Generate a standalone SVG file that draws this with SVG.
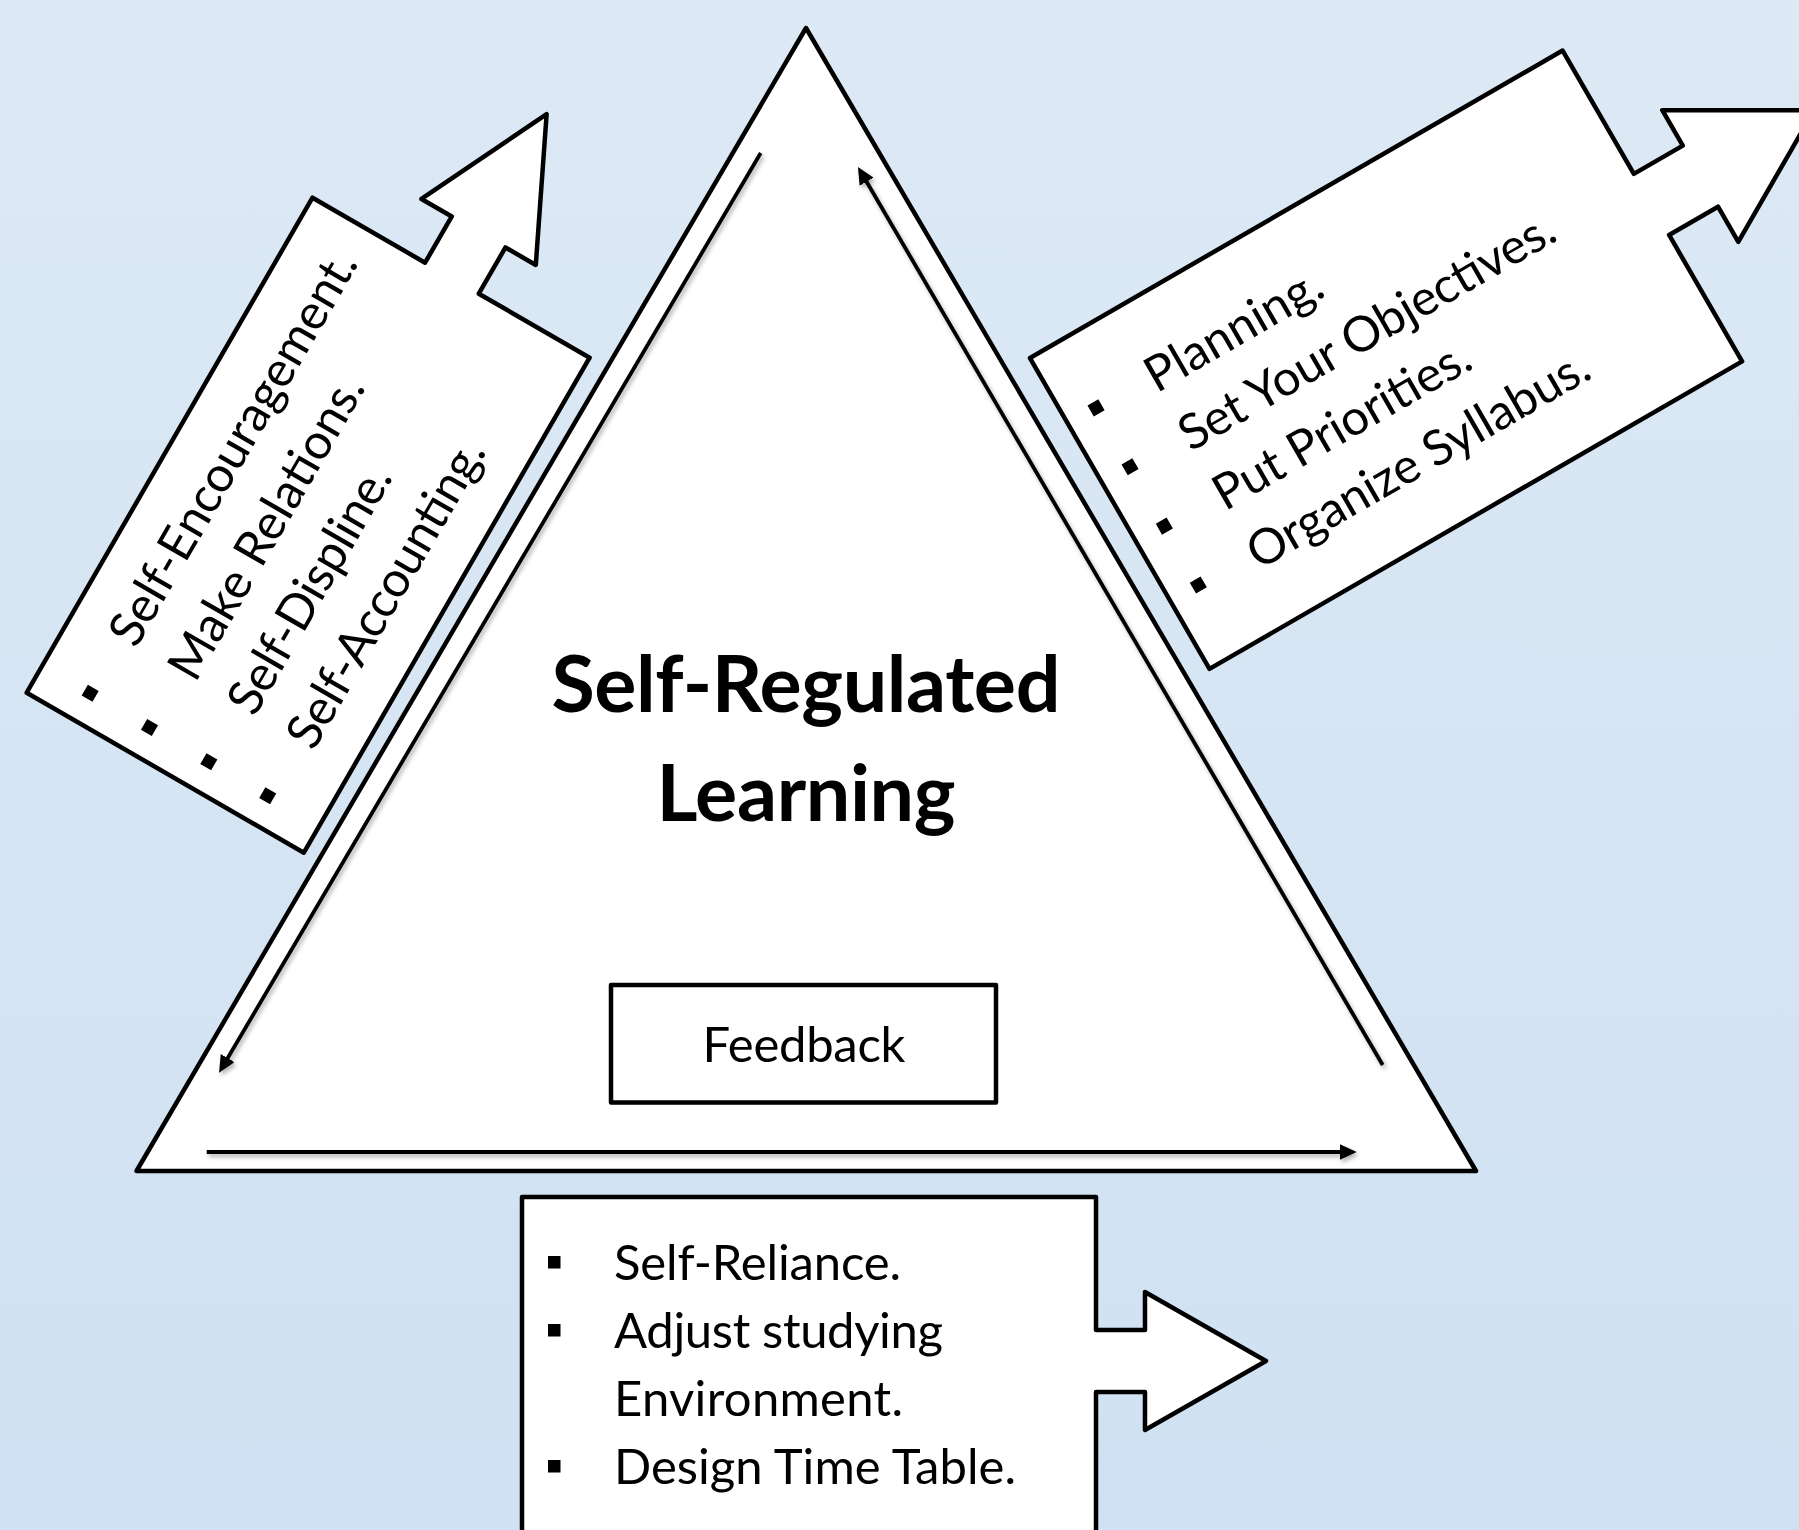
<svg xmlns="http://www.w3.org/2000/svg" width="1799" height="1530" viewBox="0 0 1799 1530">
  <defs>
    <linearGradient id="bg" x1="0" y1="0" x2="0" y2="1">
      <stop offset="0" stop-color="#dde9f5"/>
      <stop offset="1" stop-color="#cfe1f2"/>
    </linearGradient>
    <filter id="soft" filterUnits="userSpaceOnUse" x="0" y="0" width="1799" height="1530">
      <feDropShadow dx="2" dy="3" stdDeviation="2" flood-color="#000" flood-opacity="0.3"/>
    </filter>
    <marker id="head" viewBox="0 0 17 16" markerUnits="userSpaceOnUse" markerWidth="17" markerHeight="16" refX="8" refY="8" orient="auto">
      <path d="M0,0 L17,8 L0,16 Z" fill="#000"/>
    </marker>
    <style>
      .shape { fill: #fff; stroke: #000; stroke-width: 4.5; stroke-linejoin: round; }
      .flow { fill: none; stroke: #000; stroke-width: 3.8; marker-end: url(#head); }
      .item { font-family: Lato, "Open Sans", "Liberation Sans", sans-serif; font-size: 49px; fill: #000; }
      .title { font-family: Lato, "Open Sans", "Liberation Sans", sans-serif; font-size: 79px; font-weight: 700; fill: #000; text-anchor: middle; }
      .dot { fill: #000; }
    </style>
  </defs>

  <rect width="1799" height="1530" fill="url(#bg)"/>

  <!-- central triangle with the title -->
  <g id="core">
    <path class="shape" d="M806,28 L1476,1171 L136.5,1171 Z"/>
    <text class="title" x="806" y="712" textLength="509">Self-Regulated</text>
    <text class="title" x="806" y="821" textLength="299">Learning</text>
  </g>

  <!-- cycle arrows running along the triangle sides -->
  <g id="connectors" filter="url(#soft)">
    <path class="flow" d="M760.7,153 L223.6,1065"/>
    <path class="flow" d="M1382.7,1065 L862.5,174.8"/>
    <path class="flow" d="M206.7,1152 L1347.7,1152"/>
  </g>

  <!-- feedback box -->
  <g id="feedback">
    <rect class="shape" x="611" y="985" width="385" height="117.5"/>
    <text class="item" x="804" y="1062" text-anchor="middle" textLength="203">Feedback</text>
  </g>

  <!-- left callout, tilted -60 degrees -->
  <g id="left-callout" transform="translate(26.7,692.7) rotate(-60)">
    <path class="shape" d="M0,0 L571.6,0 L571.6,130 L625,130 L625,95 L761,161 L625,227 L625,192 L571.6,192 L571.6,320 L0,320 Z"/>
    <rect class="dot" x="25" y="49" width="12.5" height="12.5"/>
    <rect class="dot" x="25" y="117.5" width="12.5" height="12.5"/>
    <rect class="dot" x="25" y="186" width="12.5" height="12.5"/>
    <rect class="dot" x="25" y="254" width="12.5" height="12.5"/>
    <text class="item" x="92" y="73" textLength="446">Self-Encouragement.</text>
    <text class="item" x="92" y="141.5" textLength="342">Make Relations.</text>
    <text class="item" x="92" y="210" textLength="278">Self-Displine.</text>
    <text class="item" x="92" y="278" textLength="347">Self-Accounting.</text>
  </g>

  <!-- right callout, tilted -30 degrees -->
  <g id="right-callout" transform="translate(1030,358) rotate(-30)">
    <path class="shape" d="M0,0 L615,0 L615,142.5 L671.5,142.5 L671.5,101.5 L803,177.5 L671.5,253.5 L671.5,213 L615,213 L615,359 L0,359 Z"/>
    <rect class="dot" x="26" y="70" width="12.5" height="12.5"/>
    <rect class="dot" x="26" y="138" width="12.5" height="12.5"/>
    <rect class="dot" x="26" y="206.5" width="12.5" height="12.5"/>
    <rect class="dot" x="26" y="274.5" width="12.5" height="12.5"/>
    <text class="item" x="92" y="94" textLength="197">Planning.</text>
    <text class="item" x="92" y="162" textLength="426">Set Your Objectives.</text>
    <text class="item" x="92" y="230.5" textLength="289">Put Priorities.</text>
    <text class="item" x="92" y="298.5" textLength="387">Organize Syllabus.</text>
  </g>

  <!-- bottom callout -->
  <g id="bottom-callout">
    <path class="shape" d="M522,1197 L1096,1197 L1096,1330 L1145,1330 L1145,1292 L1266,1361 L1145,1430 L1145,1392 L1096,1392 L1096,1545 L522,1545 Z"/>
    <rect class="dot" x="548" y="1256" width="12.5" height="12.5"/>
    <rect class="dot" x="548" y="1324" width="12.5" height="12.5"/>
    <rect class="dot" x="548" y="1460" width="12.5" height="12.5"/>
    <text class="item" x="614" y="1280" textLength="287">Self-Reliance.</text>
    <text class="item" x="614" y="1348" textLength="329">Adjust studying</text>
    <text class="item" x="614" y="1416" textLength="289">Environment.</text>
    <text class="item" x="614" y="1484" textLength="402">Design Time Table.</text>
  </g>
</svg>
